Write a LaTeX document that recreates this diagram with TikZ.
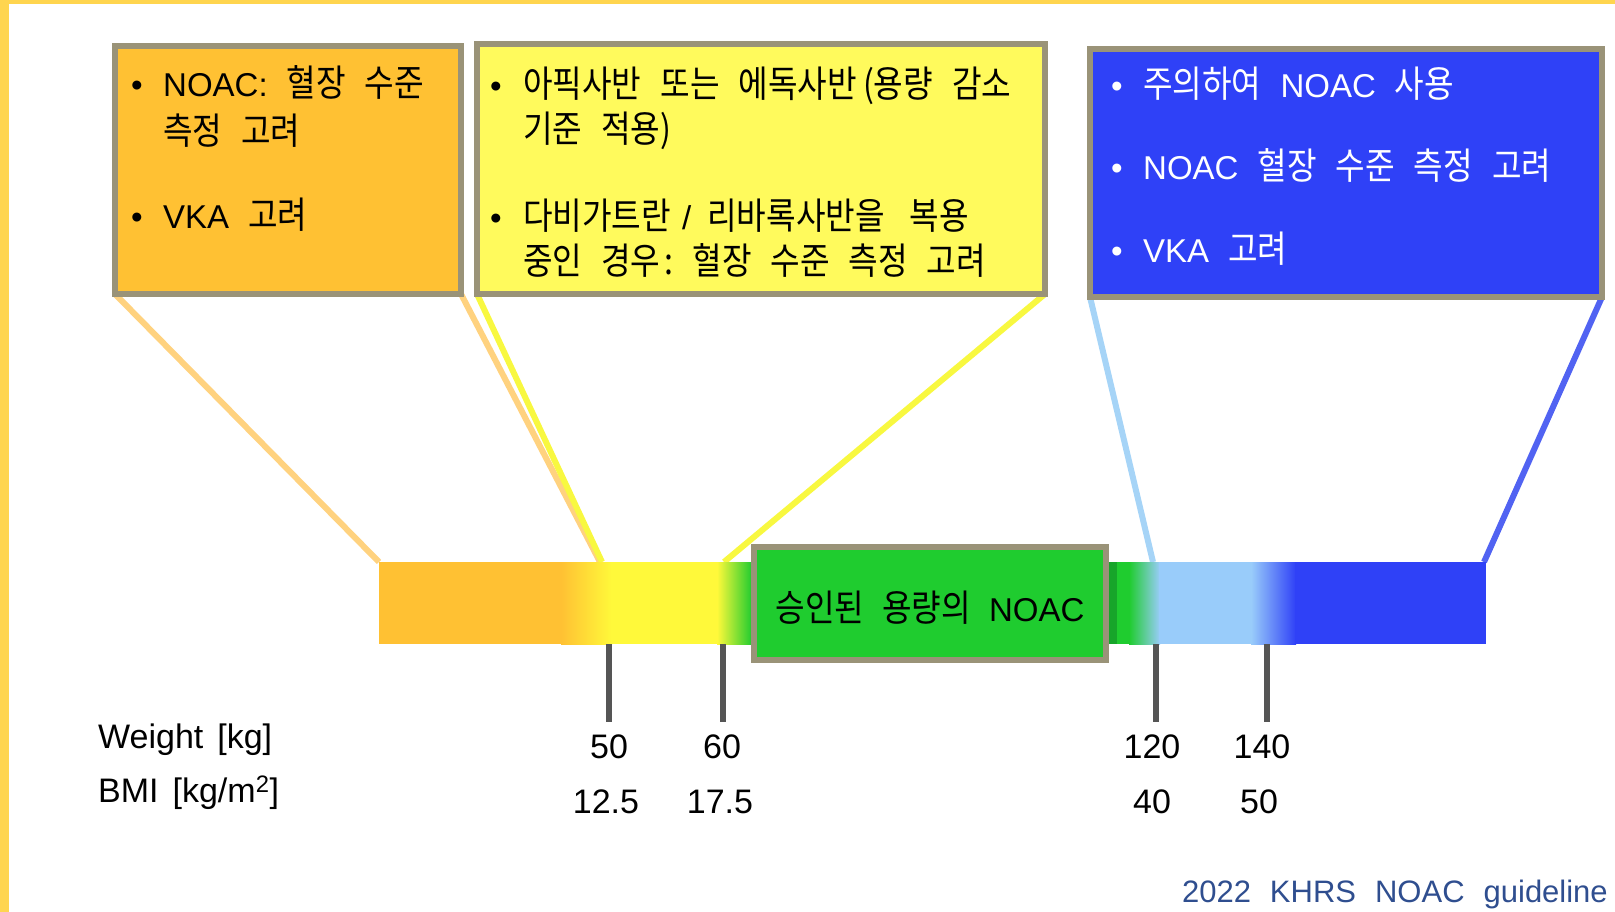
\documentclass[tikz,border=0pt]{standalone}
\usepackage{fontspec}
\setmainfont{Liberation Sans}
\newfontfamily\latf{Liberation Sans}
\newfontfamily\kr{Noto Sans CJK KR}[Scale=1.12,FakeStretch=0.87]
\newcommand\lat[1]{{\latf #1}}
\newcommand\boxfont{\fontsize{33}{40}\selectfont\kr\spaceskip=19pt\relax\xspaceskip=19pt\relax}
\newcommand\greenfont{\fontsize{33}{40}\selectfont\kr\spaceskip=18pt\relax\xspaceskip=18pt\relax}
\newcommand\numfont{\fontsize{34}{40}\selectfont\latf\spaceskip=14pt\relax\xspaceskip=14pt\relax}
\newcommand\footfont{\fontsize{31}{36}\selectfont\latf\spaceskip=19pt\relax\xspaceskip=19pt\relax}
\definecolor{frameY}{HTML}{FFD54F}
\definecolor{orangeF}{HTML}{FFC133}
\definecolor{yellowF}{HTML}{FFFA5C}
\definecolor{yellowB}{HTML}{FFF93A}
\definecolor{blueF}{HTML}{2F41F7}
\definecolor{greenF}{HTML}{1FCC2F}
\definecolor{greenD}{HTML}{17A52A}
\definecolor{lblue}{HTML}{99CCFA}
\definecolor{boxborder}{HTML}{9A9378}
\definecolor{connO}{HTML}{FFD27F}
\definecolor{connY}{HTML}{F8F840}
\definecolor{connLB}{HTML}{A6D4F7}
\definecolor{connB}{HTML}{5163F2}
\definecolor{tickgray}{HTML}{555555}
\definecolor{footblue}{HTML}{2F4E8F}
\pgfdeclarelayer{bg}
\pgfsetlayers{bg,main}
\begin{document}
\begin{tikzpicture}[x=1pt,y=-1pt,
  box/.style={draw=boxborder,line width=6pt,inner sep=0pt,outer sep=0pt},
  txt/.style={font=\boxfont,anchor=base west,inner sep=0pt},
  bul/.style={font=\fontsize{33}{40}\selectfont\latf,anchor=base,inner sep=0pt},
  conn/.style={line width=6pt},
  tick/.style={draw=tickgray,line width=6pt},
  num/.style={font=\numfont,anchor=base,inner sep=0pt}]
\path[use as bounding box] (0,0) rectangle (1615,912);
\fill[frameY] (0,0) rectangle (9,912);
\fill[frameY] (0,0) rectangle (1615,4);

% boxes
\node[box,fill=orangeF,minimum width=346pt,minimum height=248pt] (bo) at (288,170) {};
\node[box,fill=yellowF,minimum width=568pt,minimum height=250pt] (by) at (761,169) {};
\node[box,fill=blueF,minimum width=512pt,minimum height=248pt] (bb) at (1346,173) {};
\node[box,fill=greenF,minimum width=352pt,minimum height=113pt] (bg) at (930,603.5) {};

% bar corners
\coordinate (barL) at (379,562);
\coordinate (oR) at (600,562);
\coordinate (yL) at (602,562);
\coordinate (yR) at (724,562);
\coordinate (lbL) at (1153,562);
\coordinate (bR) at (1484,562);

\begin{pgfonlayer}{bg}
\draw[conn,connO] (bo.south west) -- (barL);
\draw[conn,connO] (bo.south east) -- (oR);
\draw[conn,connY] (by.south west) -- (yL);
\draw[conn,connY] (by.south east) -- (yR);
\draw[conn,connLB] (bb.south west) -- (lbL);
\draw[conn,connB] (bb.south east) -- (bR);
% gradient bar
\fill[orangeF] (379,562) rectangle (562,644);
\shade[left color=orangeF,right color=yellowB] (561,562) rectangle (612,644);
\fill[yellowB] (611,562) rectangle (718,644);
\shade[left color=yellowB,right color=greenF] (717,562) rectangle (752,644);
\fill[greenF] (751,562) rectangle (1130,644);
\fill[greenD] (1109,562) rectangle (1117,644);
\shade[left color=greenF,right color=lblue] (1129,562) rectangle (1160,644);
\fill[lblue] (1159,562) rectangle (1252,644);
\shade[left color=lblue,right color=blueF] (1251,562) rectangle (1296,644);
\fill[blueF] (1295,562) rectangle (1486,644);
\end{pgfonlayer}

% orange box text
\node[bul] (ob1) at (137,97) {•};
\node[txt] (ot1) at (163,97) {\lat{NOAC:} 혈장 수준};
\node[txt] (ot2) at (163,145) {측정 고려};
\node[bul] (ob2) at (137,229) {•};
\node[txt] (ot3) at (163,229) {\lat{VKA} 고려};

% yellow box text
\node[bul] (yb1) at (496,98) {•};
\node[txt] (yt1) at (523,98) {아픽사반 또는 에독사반\hspace{6pt}(용량 감소};
\node[txt] (yt2) at (523,143) {기준 적용)};
\node[bul] (yb2) at (496,230) {•};
\node[txt] (yt3) at (523,230) {다비가트란\hspace{11pt}\lat{/}\hspace{16pt}리바록사반을 \hspace{6pt}복용};
\node[txt] (yt4) at (523,275) {중인 경우\hspace{4pt}: 혈장 수준 측정 고려};

% blue box text
\begin{scope}[every node/.append style={text=white}]
\node[bul] (bb1) at (1117,98) {•};
\node[txt] (bt1) at (1143,98) {주의하여 \lat{NOAC} 사용};
\node[bul] (bb2) at (1117,180) {•};
\node[txt] (bt2) at (1143,180) {\lat{NOAC} 혈장 수준 측정 고려};
\node[bul] (bb3) at (1117,262) {•};
\node[txt] (bt3) at (1143,262) {\lat{VKA} 고려};
\end{scope}

% green text
\node[font=\greenfont,anchor=base,inner sep=0pt] (gt) at (930,621) {승인된 용량의 \lat{NOAC}};

% ticks
\coordinate (t1) at (609,644);
\coordinate (t2) at (723,644);
\coordinate (t3) at (1156,644);
\coordinate (t4) at (1267,644);
\draw[tick] (t1) -- ++(0,78);
\draw[tick] (t2) -- ++(0,78);
\draw[tick] (t3) -- ++(0,78);
\draw[tick] (t4) -- ++(0,78);

% labels
\node[num,anchor=base west] (lw) at (98,748) {Weight [kg]};
\node[num,anchor=base west] (lb) at (98,802) {BMI [kg/m\textsuperscript{2}]};
\node[num] (w1) at (609,758) {50};
\node[num] (w2) at (722,758) {60};
\node[num] (w3) at (1152,758) {120};
\node[num] (w4) at (1262,758) {140};
\node[num] (m1) at (606,813) {12.5};
\node[num] (m2) at (720,813) {17.5};
\node[num] (m3) at (1152,813) {40};
\node[num] (m4) at (1259,813) {50};

% footer
\node[font=\footfont,text=footblue,anchor=base east,inner sep=0pt] (ft) at (1608,902) {2022 KHRS NOAC guideline};
\end{tikzpicture}
\end{document}
